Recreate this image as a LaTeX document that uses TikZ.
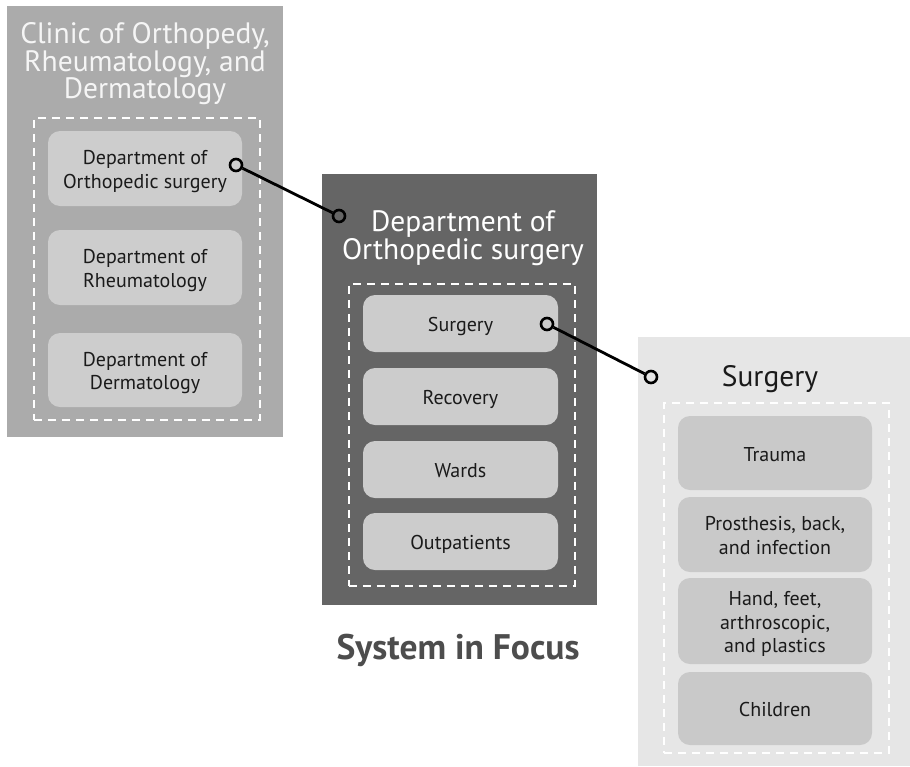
\documentclass[tikz,border=0pt]{standalone}
\usepackage{fontspec}
\setmainfont{PT Sans}
\definecolor{panelA}{HTML}{ABABAB}
\definecolor{panelB}{HTML}{656565}
\definecolor{panelC}{HTML}{E6E6E6}
\definecolor{itemA}{HTML}{CDCDCD}
\definecolor{itemB}{HTML}{CCCCCC}
\definecolor{itemC}{HTML}{C9C9C9}
\definecolor{inktext}{HTML}{1A1A1A}
\definecolor{focustext}{HTML}{4D4D4D}
\newcommand{\itmtop}{\rule{0pt}{21pt}}
\newcommand{\itmbot}{\rule[-5pt]{0pt}{5pt}}
\begin{document}
\begin{tikzpicture}[x=1pt,y=-1pt,
  panel/.style={rectangle, anchor=north west, inner sep=0pt, draw=none},
  dashbox/.style={rectangle, anchor=north west, inner sep=0pt, draw=white, line width=1.8pt, dash pattern=on 8pt off 6pt},
  itembox/.style={rectangle, rounded corners=12pt, inner sep=0pt, align=center, text=inktext, font=\fontsize{20}{23.5}\selectfont},
  titletext/.style={inner sep=0pt, align=center, font=\fontsize{29.5}{27.5}\selectfont},
  dot/.style={circle, draw=black, line width=2.6pt, minimum size=12pt, inner sep=0pt},
  link/.style={draw=black, line width=2.8pt}
]
\useasboundingbox (0,0) rectangle (910,766);
\fill[white] (0,0) rectangle (910,766);

% panels
\node[panel, fill=panelA, minimum width=276pt, minimum height=431pt] (pA) at (7,6) {};
\node[panel, fill=panelB, minimum width=275pt, minimum height=431pt] (pB) at (322,174) {};
\node[panel, fill=panelC, minimum width=272pt, minimum height=429pt] (pC) at (638,337) {};

% titles
\node[titletext, text=white!96!black] (tA) at (145,64) {Clinic of Orthopedy,\\Rheumatology, and\\Dermatology};
\node[titletext, text=white] (tB) at (463,238) {Department of\\Orthopedic surgery};
\node[titletext, text=inktext] (tC) at (770,379) {Surgery};

% dashed frames
\node[dashbox, minimum width=226pt, minimum height=302pt] (dA) at (33,117) {};
\node[dashbox, minimum width=226pt, minimum height=302pt] (dB) at (348,283) {};
\node[dashbox, minimum width=225pt, minimum height=350pt] (dC) at (663,402) {};

% items left
\node[itembox, fill=itemA, minimum width=194pt, minimum height=75pt] (a1) at (145,168.5) {\itmtop Department of\\Orthopedic surgery\itmbot};
\node[itembox, fill=itemA, minimum width=194pt, minimum height=75pt] (a2) at (145,267.5) {\itmtop Department of\\Rheumatology\itmbot};
\node[itembox, fill=itemA, minimum width=194pt, minimum height=74pt] (a3) at (145,370) {\itmtop Department of\\Dermatology\itmbot};

% items middle
\node[itembox, fill=itemB, minimum width=195pt, minimum height=57pt] (b1) at (460.5,323.5) {\itmtop Surgery\itmbot};
\node[itembox, fill=itemB, minimum width=195pt, minimum height=57pt] (b2) at (460.5,396.5) {\itmtop Recovery\itmbot};
\node[itembox, fill=itemB, minimum width=195pt, minimum height=57pt] (b3) at (460.5,469.5) {\itmtop Wards\itmbot};
\node[itembox, fill=itemB, minimum width=195pt, minimum height=57pt] (b4) at (460.5,541.5) {\itmtop Outpatients\itmbot};

% items right
\node[itembox, fill=itemC, minimum width=194pt, minimum height=74pt] (c1) at (775,453) {\itmtop Trauma\itmbot};
\node[itembox, fill=itemC, minimum width=194pt, minimum height=75pt] (c2) at (775,534.5) {\itmtop Prosthesis, back,\\and infection\itmbot};
\node[itembox, fill=itemC, minimum width=194pt, minimum height=86pt] (c3) at (775,621) {\itmtop Hand, feet,\\arthroscopic,\\and plastics\itmbot};
\node[itembox, fill=itemC, minimum width=194pt, minimum height=73pt] (c4) at (775,708.5) {\itmtop Children\itmbot};

% caption
\node[inner sep=0pt, text=focustext, font=\fontsize{35.5}{35.5}\selectfont\bfseries] (focus) at (458,650) {System in Focus};

% connectors
\node[dot] (k1) at (236,165) {};
\node[dot] (k2) at (339,216) {};
\node[dot] (k3) at (547,324) {};
\node[dot] (k4) at (651,377) {};
\draw[link] (k1) -- (k2);
\draw[link] (k3) -- (k4);
\end{tikzpicture}
\end{document}
